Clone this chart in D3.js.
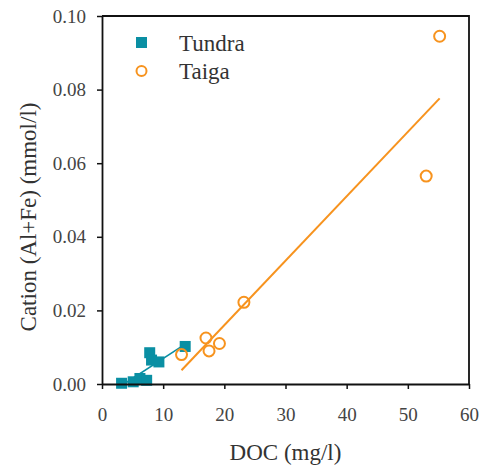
<!DOCTYPE html>
<html>
<head>
<meta charset="utf-8">
<script src="https://cdn.jsdelivr.net/npm/d3@7"></script>
</head>
<body style="margin:0">
<svg id="chart" width="480" height="468"></svg>
<script>
// data
let tundraDoc = [3.2, 5.1, 6.2, 7.3, 7.8, 8.1, 9.3, 13.6];
let tundraCation = [0.0002, 0.0006, 0.0015, 0.001, 0.0085, 0.0065, 0.006, 0.0102];
let taigaDoc = [13, 17, 17.5, 19.2, 23.2, 53, 55.2];
let taigaCation = [0.008, 0.0125, 0.009, 0.011, 0.0222, 0.0565, 0.0945];
let xTicks = [0, 10, 20, 30, 40, 50, 60];
let yTicks = [0, 0.02, 0.04, 0.06, 0.08, 0.1];
let seriesNames = ["Tundra", "Taiga"];

let teal = "#0a8fa3";
let orange = "#f7931e";
let font = "Liberation Serif";

let margin = {left: 102, right: 11, top: 16, bottom: 84};
let width = 480, height = 468;

let x = d3.scaleLinear().domain([0, 60]).range([margin.left, width - margin.right]);
let y = d3.scaleLinear().domain([0, 0.1]).range([height - margin.bottom, margin.top]);

let svg = d3.select("#chart");

// least squares fit, drawn over the data range
let fit = (xs, ys) => {
    let mx = d3.mean(xs), my = d3.mean(ys);
    let sxy = d3.sum(xs, (v, i) => (v - mx) * (ys[i] - my));
    let sxx = d3.sum(xs, v => (v - mx) * (v - mx));
    let b = sxy / sxx, a = my - b * mx;
    let x0 = Math.max(d3.min(xs), -a / b);
    let x1 = d3.max(xs);
    return [[x0, a + b * x0], [x1, a + b * x1]];
};

let line = d3.line().x(d => x(d[0])).y(d => y(d[1]));

svg.append("path")
    .attr("d", line(fit(tundraDoc, tundraCation)))
    .attr("stroke", teal)
    .attr("stroke-width", 1.5)
    .attr("fill", "none");

svg.append("path")
    .attr("d", line(fit(taigaDoc, taigaCation)))
    .attr("stroke", orange)
    .attr("stroke-width", 2)
    .attr("fill", "none");

let sq = 11;
svg.append("g")
    .selectAll("rect")
    .data(tundraDoc.map((v, i) => [v, tundraCation[i]]))
    .enter().append("rect")
    .attr("x", d => x(d[0]) - sq / 2)
    .attr("y", d => y(d[1]) - sq / 2)
    .attr("width", sq)
    .attr("height", sq)
    .attr("fill", teal);

svg.append("g")
    .selectAll("circle")
    .data(taigaDoc.map((v, i) => [v, taigaCation[i]]))
    .enter().append("circle")
    .attr("cx", d => x(d[0]))
    .attr("cy", d => y(d[1]))
    .attr("r", 5.5)
    .attr("fill", "none")
    .attr("stroke", orange)
    .attr("stroke-width", 2);

// axes
let xAxis = svg.append("g")
    .attr("transform", `translate(0,${y(0)})`)
    .call(d3.axisBottom(x).tickValues(xTicks).tickSize(5).tickSizeOuter(0).tickFormat(d3.format("d")));
let yAxis = svg.append("g")
    .attr("transform", `translate(${x(0)},0)`)
    .call(d3.axisLeft(y).tickValues(yTicks).tickSize(5).tickSizeOuter(0).tickFormat(d3.format(".2f")));

[xAxis, yAxis].forEach(g => {
    g.attr("font-family", font).attr("font-size", 19);
    g.select(".domain").attr("stroke", "#111").attr("stroke-width", 1.8);
    g.selectAll(".tick line").attr("stroke", "#111").attr("stroke-width", 1.5);
    g.selectAll(".tick text")
        .attr("fill", "#444")
        .attr("font-family", font)
        .attr("font-size", 19);
});
xAxis.selectAll(".tick text").attr("dy", "1.55em");
yAxis.selectAll(".tick text").attr("x", -16);

// top and right frame
svg.append("path")
    .attr("d", `M${x(0)},${y(0.1)}H${x(60)}V${y(0)}`)
    .attr("stroke", "#111")
    .attr("stroke-width", 1.8)
    .attr("fill", "none");

svg.append("text")
    .attr("x", (x(0) + x(60)) / 2)
    .attr("y", 460)
    .attr("text-anchor", "middle")
    .attr("fill", "#333")
    .attr("font-family", font)
    .attr("font-size", 23)
    .text("DOC (mg/l)");

svg.append("text")
    .attr("transform", `translate(36,217) rotate(-90)`)
    .attr("text-anchor", "middle")
    .attr("fill", "#333")
    .attr("font-family", font)
    .attr("font-size", 23)
    .text("Cation (Al+Fe) (mmol/l)");

// legend
let legend = svg.append("g");
legend.append("rect")
    .attr("x", 136).attr("y", 37).attr("width", 11).attr("height", 11)
    .attr("fill", teal);
legend.append("circle")
    .attr("cx", 141.5).attr("cy", 71).attr("r", 5)
    .attr("fill", "none").attr("stroke", orange).attr("stroke-width", 2);
legend.selectAll("text")
    .data(seriesNames)
    .enter().append("text")
    .attr("x", 179)
    .attr("y", (d, i) => 51 + i * 28)
    .attr("fill", "#333")
    .attr("font-family", font)
    .attr("font-size", 23)
    .text(d => d);
</script>
</body>
</html>
